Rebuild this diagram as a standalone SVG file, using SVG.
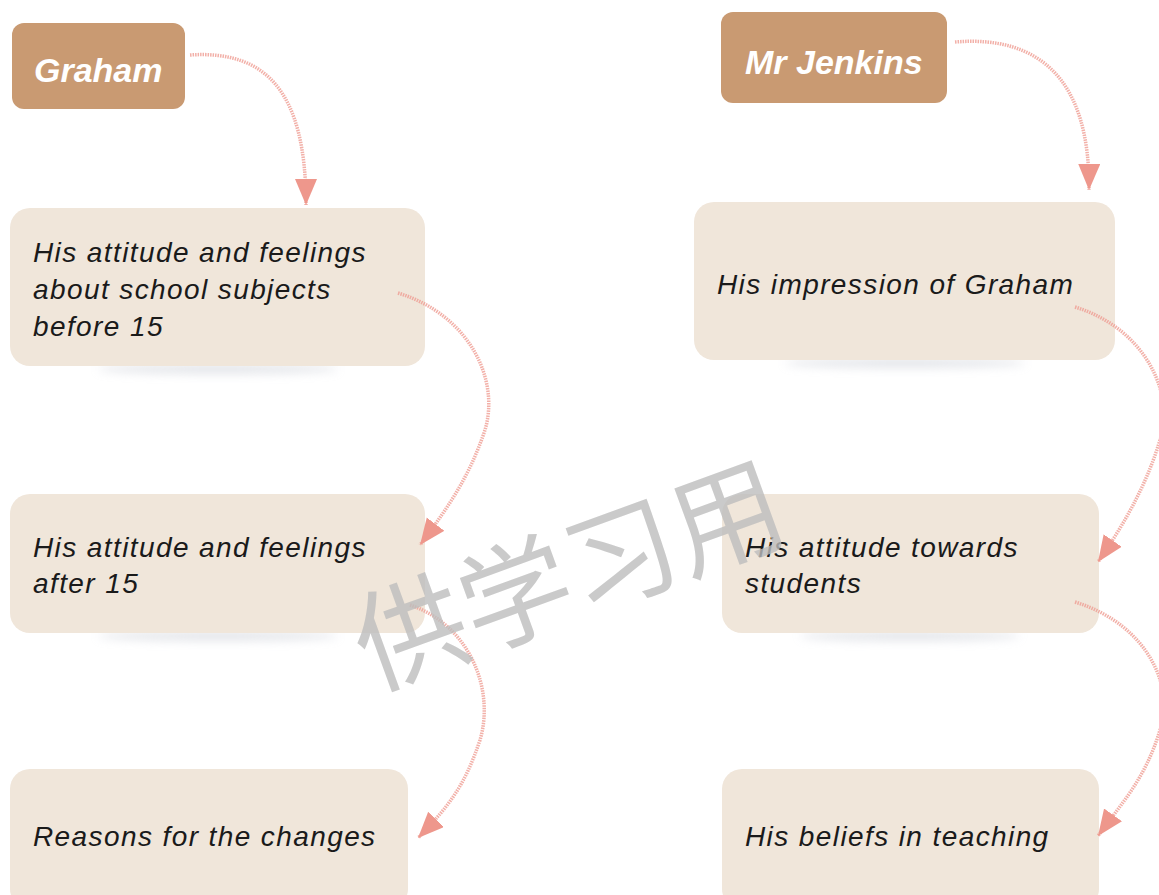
<svg xmlns="http://www.w3.org/2000/svg" width="1159" height="895" viewBox="0 0 1159 895">
<style>
.hdr{fill:#c99a72}
.box{fill:#f0e6da}
.ht{font-family:"Liberation Sans",Arial,sans-serif;font-style:italic;font-weight:bold;font-size:34px;fill:#ffffff}
.bt{font-family:"Liberation Sans",Arial,sans-serif;font-style:italic;font-size:28px;letter-spacing:1.4px;fill:#1a1a1a}
.con{fill:none;stroke:#ef9c92;stroke-width:3.5;stroke-opacity:0.8;stroke-dasharray:1.5 1}
.wm{font-family:"Noto Sans CJK SC","Noto Sans CJK TC",sans-serif;font-size:112px;fill:#bdbdbd;fill-opacity:0.8}
</style>
<defs>
<marker id="ah" markerUnits="userSpaceOnUse" markerWidth="30" markerHeight="24" refX="26" refY="11" orient="auto">
<path d="M0,0 L26,11 L0,22 z" fill="#ee978c"/>
</marker>
<filter id="sh" x="-50%" y="-200%" width="200%" height="500%"><feGaussianBlur stdDeviation="5"/></filter>
</defs>
<g id="shadows" fill="#c9cdd6" opacity="0.5" filter="url(#sh)">
<ellipse cx="218" cy="369" rx="120" ry="5"/>
<ellipse cx="218" cy="636" rx="120" ry="5"/>
<ellipse cx="905" cy="363" rx="120" ry="5"/>
<ellipse cx="910" cy="636" rx="110" ry="5"/>
</g>
<g id="graham"><rect class="hdr" x="12" y="23" width="173" height="86" rx="12"/><text class="ht" x="34" y="82">Graham</text></g>
<g id="jenkins"><rect class="hdr" x="721" y="12" width="226" height="91" rx="12"/><text class="ht" x="745" y="74">Mr Jenkins</text></g>
<g id="g1"><rect class="box" x="10" y="208" width="415" height="158" rx="20"/>
<text class="bt" x="33" y="262">His attitude and feelings</text>
<text class="bt" x="33" y="299">about school subjects</text>
<text class="bt" x="33" y="336">before 15</text></g>
<g id="g2"><rect class="box" x="10" y="494" width="415" height="139" rx="20"/>
<text class="bt" x="33" y="557">His attitude and feelings</text>
<text class="bt" x="33" y="593">after 15</text></g>
<g id="g3"><rect class="box" x="10" y="769" width="398" height="140" rx="20"/>
<text class="bt" x="33" y="846">Reasons for the changes</text></g>
<g id="j1"><rect class="box" x="694" y="202" width="421" height="158" rx="20"/>
<text class="bt" x="717" y="294">His impression of Graham</text></g>
<g id="j2"><rect class="box" x="722" y="494" width="377" height="139" rx="20"/>
<text class="bt" x="745" y="557">His attitude towards</text>
<text class="bt" x="745" y="593">students</text></g>
<g id="j3"><rect class="box" x="722" y="769" width="377" height="140" rx="20"/>
<text class="bt" x="745" y="846">His beliefs in teaching</text></g>
<g id="connectors">
<path class="con" marker-end="url(#ah)" d="M190,55 C265,50 306,90 306,205"/>
<path class="con" marker-end="url(#ah)" d="M398,293 C470,315 500,380 485,430 C470,475 450,505 420,545"/>
<path class="con" marker-end="url(#ah)" d="M410,605 C470,625 495,690 480,740 C465,785 450,805 418,838"/>
<path class="con" marker-end="url(#ah)" d="M955,42 C1040,35 1090,80 1089,190"/>
<path class="con" marker-end="url(#ah)" d="M1075,307 C1150,330 1175,400 1160,440 C1145,490 1120,530 1098,562"/>
<path class="con" marker-end="url(#ah)" d="M1075,602 C1150,625 1175,690 1160,730 C1145,780 1120,805 1098,836"/>
</g>
<g id="watermark"><text class="wm" transform="translate(572,585) rotate(-20)" text-anchor="middle" dominant-baseline="middle">供学习用</text></g>
</svg>
